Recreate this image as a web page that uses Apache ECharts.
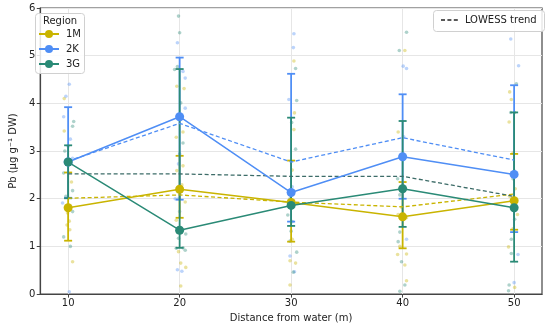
<!DOCTYPE html>
<html><head><meta charset="utf-8">
<script src="https://cdn.jsdelivr.net/npm/echarts@6/dist/echarts.min.js"></script>
<style>html,body{margin:0;padding:0;background:#fff}#c{width:550px;height:328px}</style>
</head><body><div id="c"></div>
<script>
const distances = [10, 20, 30, 40, 50];
const xTicks = [10, 20, 30, 40, 50];
const regions = ['1M', '2K', '3G'];

const mean1M = [1.81, 2.20, 1.92, 1.62, 1.96];
const mean2K = [2.77, 3.72, 2.13, 2.88, 2.51];
const mean3G = [2.77, 1.34, 1.86, 2.21, 1.81];

const lo1M = [1.12, 1.60, 1.10, 0.96, 1.35];
const hi1M = [2.55, 2.90, 2.80, 2.35, 2.94];
const lo2K = [2.02, 1.98, 1.52, 2.00, 1.30];
const hi2K = [3.92, 4.96, 4.62, 4.19, 4.38];
const lo3G = [2.01, 0.97, 1.43, 1.41, 0.68];
const hi3G = [3.12, 4.72, 3.70, 3.63, 3.81];

const lowess1M = [2.01, 2.08, 1.93, 1.83, 2.10];
const lowess2K = [2.79, 3.58, 2.77, 3.28, 2.81];
const lowess3G = [2.52, 2.52, 2.47, 2.47, 2.05];

const points1M = [[9.65,4.10],[9.65,3.42],[10.3,2.35],[9.95,1.70],[10.1,1.53],[10.15,1.35],[10.4,0.68],[9.9,1.45],
  [19.75,4.36],[20.4,4.31],[19.7,3.29],[20.3,3.40],[20.3,2.69],[19.75,2.59],[20.5,1.93],[19.7,1.55],[19.9,0.89],[20.1,0.65],[20.55,0.56],[20.1,0.17],[20.2,2.29],
  [30.25,4.89],[30.3,3.80],[30.25,3.45],[30.1,2.60],[30.1,1.15],[29.9,0.70],[30.4,0.65],[29.9,0.19],[30.0,1.95],
  [40.2,5.11],[39.6,3.40],[39.9,1.82],[39.6,1.67],[39.75,1.00],[40.35,0.84],[39.55,0.83],[40.2,0.61],[40.35,0.28],[40.35,1.60],
  [49.6,4.24],[49.75,4.08],[49.55,3.61],[49.9,2.96],[49.6,2.05],[50.3,1.67],[49.9,1.37],[49.5,0.99],[50.05,0.14],[50.1,2.21]];
const points2K = [[10.1,4.40],[9.8,4.15],[9.6,3.72],[10.2,3.25],[10.0,3.10],[9.5,1.91],[10.1,0.05],[10.4,2.85],
  [19.8,5.27],[20.3,4.67],[20.5,4.53],[20.5,3.90],[19.9,2.73],[19.6,2.00],[19.9,2.00],[20.0,1.73],[20.2,0.48],[19.8,0.51],
  [30.25,5.46],[30.2,5.17],[29.8,4.08],[29.9,0.80],[30.3,0.47],[30.1,2.25],
  [40.05,4.78],[40.35,4.73],[40.35,1.15],[40.1,3.30],
  [49.7,5.35],[50.4,4.79],[50.05,1.75],[50.35,0.83],[50.0,0.24],[50.05,2.58]];
const points3G = [[10.5,3.62],[10.4,3.52],[9.7,3.00],[9.6,2.54],[10.4,2.17],[9.8,2.05],[9.6,1.20],[10.2,1.00],[10.4,1.73],
  [19.9,5.83],[20.0,5.48],[19.55,4.71],[19.8,4.77],[20.1,4.01],[20.0,2.94],[20.3,3.17],[19.8,1.30],[20.55,1.26],[19.9,1.17],[19.7,0.96],[20.3,0.97],[20.5,0.92],
  [30.4,4.73],[30.5,4.06],[30.05,3.60],[30.4,3.04],[29.9,2.00],[30.0,1.87],[29.7,1.66],[30.1,1.52],[30.0,1.32],[29.9,1.11],[30.5,0.88],[30.2,0.46],
  [40.35,5.49],[39.7,5.11],[39.55,2.42],[39.75,2.08],[39.75,1.30],[39.6,1.10],[39.9,0.68],[40.2,0.19],[39.75,0.06],
  [50.2,4.41],[49.7,3.81],[50.05,3.81],[49.9,2.42],[49.9,1.93],[50.05,1.57],[49.75,1.15],[49.75,0.85],[49.55,0.19],[49.5,0.07]];

const colors = {'1M': '#c9b400', '2K': '#4f8ef5', '3G': '#2a8a76'};
const trendColors = {'1M': '#c9b400', '2K': '#4f8ef5', '3G': '#3d6c68'};
const FONT = 'DejaVu Sans';

const means = {'1M': mean1M, '2K': mean2K, '3G': mean3G};
const los = {'1M': lo1M, '2K': lo2K, '3G': lo3G};
const his = {'1M': hi1M, '2K': hi2K, '3G': hi3G};
const trends = {'1M': lowess1M, '2K': lowess2K, '3G': lowess3G};
const pts = {'1M': points1M, '2K': points2K, '3G': points3G};

const series = [];
regions.forEach(r => {
  series.push({
    name: r, type: 'line', z: 6,
    data: distances.map((d, i) => [d, means[r][i]]),
    symbol: 'circle', symbolSize: 9,
    itemStyle: {color: colors[r]},
    lineStyle: {color: colors[r], width: 1.5},
    emphasis: {disabled: true}
  });
});
regions.forEach((r, k) => {
  series.push({
    name: r + ' points', type: 'scatter', z: 1,
    data: pts[r], symbolSize: 3.6,
    itemStyle: {color: colors[r], opacity: 0.38},
    silent: true
  });
});
regions.forEach((r, k) => {
  series.push({
    name: r, type: 'custom', z: 3 + k * 0.1,
    data: distances.map((d, i) => [d, los[r][i], his[r][i]]),
    renderItem: function (params, api) {
      const x = api.value(0), lo = api.value(1), hi = api.value(2);
      const p1 = api.coord([x, lo]), p2 = api.coord([x, hi]);
      const w = 4, st = {stroke: colors[r], lineWidth: 1.8};
      return {type: 'group', children: [
        {type: 'line', shape: {x1: p1[0], y1: p1[1], x2: p2[0], y2: p2[1]}, style: st},
        {type: 'line', shape: {x1: p1[0] - w, y1: p1[1], x2: p1[0] + w, y2: p1[1]}, style: st},
        {type: 'line', shape: {x1: p2[0] - w, y1: p2[1], x2: p2[0] + w, y2: p2[1]}, style: st}
      ]};
    },
    silent: true
  });
});
regions.forEach(r => {
  series.push({
    name: r + ' trend', type: 'line', z: 5,
    data: distances.map((d, i) => [d, trends[r][i]]),
    symbol: 'none',
    lineStyle: {color: trendColors[r], width: 1.3, type: [4, 2.5]},
    silent: true
  });
});
series.push({
  name: 'LOWESS trend', type: 'line', data: [], symbol: 'none',
  itemStyle: {color: '#222'},
  lineStyle: {color: '#222', width: 1.3, type: [4, 2.5]}
});

const option = {
  animation: false,
  textStyle: {fontFamily: FONT},
  grid: {left: 31, right: 8, top: 8, bottom: 32, show: true, borderColor: '#444', borderWidth: 1.2, backgroundColor: 'transparent'},
  xAxis: {
    type: 'value', min: 7.5, max: 52.5,
    name: 'Distance from water (m)', nameLocation: 'middle', nameGap: 17,
    nameTextStyle: {fontFamily: FONT, fontSize: 10, color: '#222'},
    axisLine: {show: true, lineStyle: {color: '#444', width: 1.2}},
    axisTick: {show: true, length: 3.5, customValues: xTicks, lineStyle: {color: '#444'}},
    axisLabel: {customValues: xTicks, fontFamily: FONT, fontSize: 10, color: '#222', margin: 4},
    splitLine: {show: true, customValues: xTicks, lineStyle: {color: '#e6e6e6', width: 1}}
  },
  yAxis: {
    type: 'value', min: 0, max: 6, interval: 1,
    name: 'Pb (μg g⁻¹ DW)', nameLocation: 'middle', nameGap: 20, nameRotate: 90,
    nameTextStyle: {fontFamily: FONT, fontSize: 10, color: '#222'},
    axisLine: {show: true, lineStyle: {color: '#444', width: 1.2}},
    axisTick: {show: true, length: 3.5, lineStyle: {color: '#444'}},
    axisLabel: {fontFamily: FONT, fontSize: 10, color: '#222', margin: 5},
    splitLine: {show: true, lineStyle: {color: '#e6e6e6', width: 1}}
  },
  legend: [{
    data: regions, orient: 'vertical', left: 33, top: 24, z: 20,
    itemWidth: 20, itemHeight: 10, itemGap: 5,
    textStyle: {fontFamily: FONT, fontSize: 10, color: '#222', padding: [0, 0, 0, 2]},
    selectedMode: false
  }, {
    data: [{name: 'LOWESS trend', icon: 'path://M0,0H5V2H0ZM8,0H13V2H8ZM16,0H21V2H16Z'}],
    left: 436, top: 10, z: 20,
    itemWidth: 21, itemHeight: 1.6,
    textStyle: {fontFamily: FONT, fontSize: 10, color: '#222'},
    selectedMode: false
  }],
  graphic: [
    {type: 'rect', z: 15, shape: {x: 35.5, y: 13.5, width: 49, height: 60, r: 3},
     style: {fill: 'rgba(255,255,255,0.85)', stroke: '#d0d0d0', lineWidth: 1}},
    {type: 'text', z: 16, x: 60, y: 21, style: {text: 'Region', fontFamily: FONT, fontSize: 10, fill: '#222', align: 'center', verticalAlign: 'middle'}},
    {type: 'rect', z: 15, shape: {x: 433.5, y: 10.5, width: 111, height: 21, r: 3},
     style: {fill: 'rgba(255,255,255,0.85)', stroke: '#d0d0d0', lineWidth: 1}}
  ],
  series: series
};
const chart = echarts.init(document.getElementById('c'), null, {renderer: 'canvas'});
chart.setOption(option);
</script>
</body></html>
